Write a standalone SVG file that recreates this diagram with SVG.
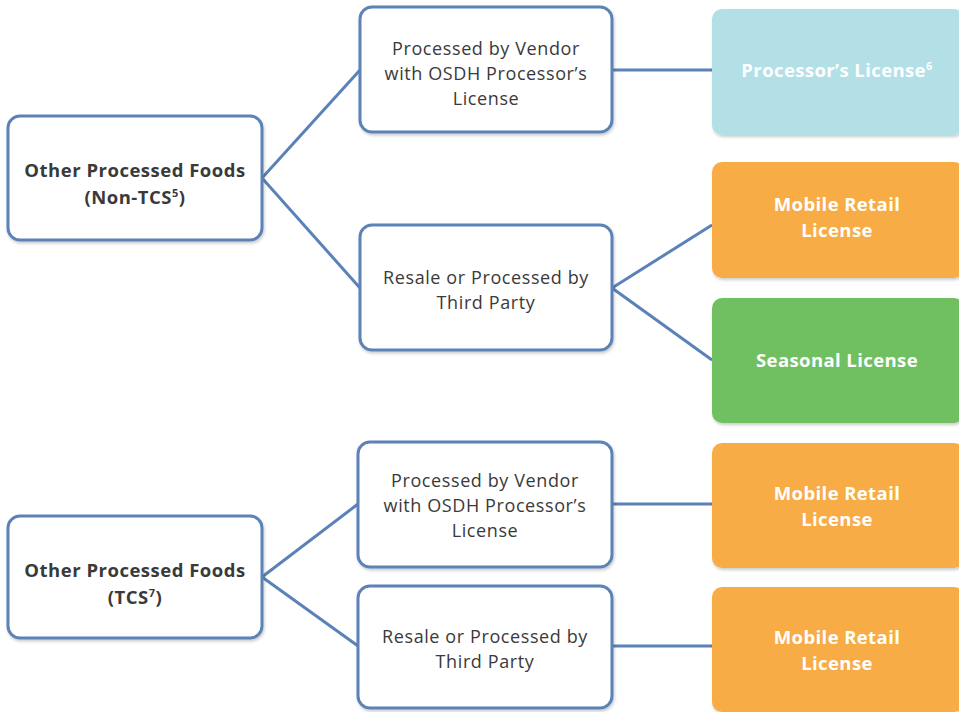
<svg xmlns="http://www.w3.org/2000/svg" width="959" height="712" viewBox="0 0 959 712">
<defs>
<filter id="sh" x="-5%" y="-5%" width="112%" height="115%">
<feDropShadow dx="1" dy="2" stdDeviation="1.5" flood-color="#000" flood-opacity="0.2"/>
</filter>
</defs>
<style>
.box{fill:#ffffff;stroke:#5b82b8;stroke-width:3;filter:url(#sh)}
.lic{stroke:none;filter:url(#sh)}
.t{font-family:"Open Sans","Liberation Sans",sans-serif;font-size:18px;fill:#3a3a3a;text-anchor:middle;letter-spacing:0.6px}
.b{font-weight:bold;font-size:18.5px;letter-spacing:0.5px}
.w{font-family:"Open Sans","Liberation Sans",sans-serif;font-size:18.5px;font-weight:bold;fill:#ffffff;text-anchor:middle;letter-spacing:0.4px}
.c{stroke:#5b82b8;stroke-width:3;fill:none}
</style>
<rect width="959" height="712" fill="#ffffff"/>
<g id="connectors">
<line class="c" x1="262" y1="178" x2="360" y2="70"/>
<line class="c" x1="262" y1="178" x2="360" y2="288"/>
<line class="c" x1="612" y1="70" x2="712" y2="70"/>
<line class="c" x1="612" y1="288" x2="712" y2="225"/>
<line class="c" x1="612" y1="288" x2="712" y2="360"/>
<line class="c" x1="262" y1="577" x2="358" y2="504"/>
<line class="c" x1="262" y1="577" x2="358" y2="646"/>
<line class="c" x1="612" y1="504" x2="712" y2="504"/>
<line class="c" x1="612" y1="646" x2="712" y2="646"/>
</g>
<g id="n1">
<rect class="box" x="8" y="116" width="254" height="124" rx="12"/>
<text class="t b" x="135" y="177">Other Processed Foods</text>
<text class="t b" x="135" y="204">(Non-TCS<tspan font-size="11" dy="-7">5</tspan><tspan dy="7">)</tspan></text>
</g>
<g id="n2">
<rect class="box" x="360" y="7" width="252" height="125" rx="12"/>
<text class="t" x="486" y="54.5">Processed by Vendor</text>
<text class="t" x="486" y="79.5">with OSDH Processor’s</text>
<text class="t" x="486" y="104.5">License</text>
</g>
<g id="n3">
<rect class="box" x="360" y="225" width="252" height="125" rx="12"/>
<text class="t" x="486" y="283.5">Resale or Processed by</text>
<text class="t" x="486" y="308.5">Third Party</text>
</g>
<g id="n4">
<rect class="lic" x="712" y="9" width="252" height="126" rx="10" fill="#b2e0e6"/>
<text class="w" x="837" y="77">Processor’s License<tspan font-size="11" dy="-7">6</tspan></text>
</g>
<g id="n5">
<rect class="lic" x="712" y="162" width="252" height="116" rx="10" fill="#f8ac45"/>
<text class="w" x="837" y="211">Mobile Retail</text>
<text class="w" x="837" y="237">License</text>
</g>
<g id="n6">
<rect class="lic" x="712" y="298" width="252" height="125" rx="10" fill="#6fc062"/>
<text class="w" x="837" y="367">Seasonal License</text>
</g>
<g id="n7">
<rect class="box" x="8" y="516" width="254" height="122" rx="12"/>
<text class="t b" x="135" y="577">Other Processed Foods</text>
<text class="t b" x="135" y="604">(TCS<tspan font-size="11" dy="-7">7</tspan><tspan dy="7">)</tspan></text>
</g>
<g id="n8">
<rect class="box" x="358" y="442" width="254" height="125" rx="12"/>
<text class="t" x="485" y="486.5">Processed by Vendor</text>
<text class="t" x="485" y="511.5">with OSDH Processor’s</text>
<text class="t" x="485" y="536.5">License</text>
</g>
<g id="n9">
<rect class="box" x="358" y="586" width="254" height="122" rx="12"/>
<text class="t" x="485" y="642.5">Resale or Processed by</text>
<text class="t" x="485" y="667.5">Third Party</text>
</g>
<g id="n10">
<rect class="lic" x="712" y="443" width="252" height="125" rx="10" fill="#f8ac45"/>
<text class="w" x="837" y="500">Mobile Retail</text>
<text class="w" x="837" y="526">License</text>
</g>
<g id="n11">
<rect class="lic" x="712" y="587" width="252" height="125" rx="10" fill="#f8ac45"/>
<text class="w" x="837" y="644">Mobile Retail</text>
<text class="w" x="837" y="670">License</text>
</g>
</svg>
